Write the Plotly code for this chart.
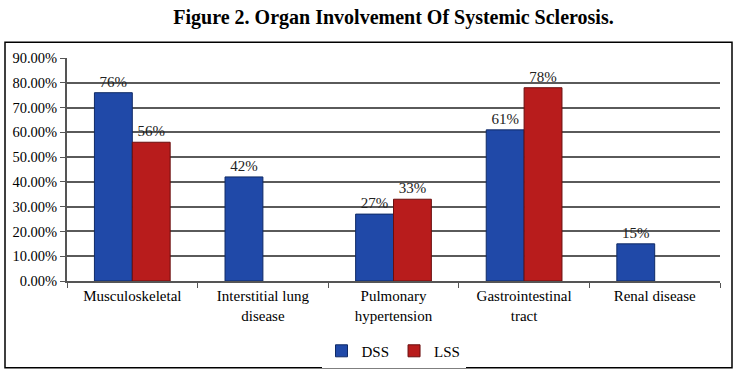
import plotly.graph_objects as go

categories = ["Musculoskeletal", "Interstitial lung<br>disease", "Pulmonary<br>hypertension",
              "Gastrointestinal<br>tract", "Renal disease"]
dss = [0.76, 0.42, 0.27, 0.61, 0.15]
lss = [0.56, None, 0.33, 0.78, None]
y_ticks = [0, 0.1, 0.2, 0.3, 0.4, 0.5, 0.6, 0.7, 0.8, 0.9]

font_family = "Liberation Serif"

def labels(vals):
    return [("%d%%" % round(v * 100)) if v is not None else "" for v in vals]

fig = go.Figure()
fig.add_trace(go.Bar(
    name="DSS", x=categories, y=dss, text=labels(dss), textposition="outside",
    marker=dict(color="#2049A8", line=dict(color="#0F2A66", width=1)),
    textfont=dict(family=font_family, size=15, color="#222"), cliponaxis=False,
))
fig.add_trace(go.Bar(
    name="LSS", x=categories, y=lss, text=labels(lss), textposition="outside",
    marker=dict(color="#B81C1C", line=dict(color="#6A0E0E", width=1)),
    textfont=dict(family=font_family, size=15, color="#222"), cliponaxis=False,
))

L, R, T, B = 67, 19, 58, 95
W, H = 739, 379
pw, ph = W - L - R, H - T - B

def px(x):
    return (x - L) / pw

def py(y):
    return (H - B - y) / ph

fig.update_layout(
    width=W, height=H,
    margin=dict(l=L, r=R, t=T, b=B),
    paper_bgcolor="white", plot_bgcolor="white",
    barmode="group", bargap=0.42, bargroupgap=0,
    font=dict(family=font_family, size=14, color="black"),
    title=dict(text="<b>Figure 2. Organ Involvement Of Systemic Sclerosis.</b>",
               x=0.5, xref="paper", xanchor="center", y=1 - 17 / H, yanchor="middle",
               font=dict(family=font_family, size=20, color="black")),
    legend=dict(orientation="h", x=0.5, xanchor="center", y=py(355), yanchor="middle",
                font=dict(family=font_family, size=15, color="black"), traceorder="normal",
                itemwidth=30),
    showlegend=True,
    xaxis=dict(tickson="boundaries", ticks="outside", ticklen=5, tickcolor="#555",
               showline=True, linecolor="#555", linewidth=2, showgrid=False,
               automargin=False,
               tickfont=dict(family=font_family, size=15, color="black")),
    yaxis=dict(range=[0, 0.9], tickvals=y_ticks, tickformat=".2%", ticks="outside",
               ticklen=5, tickcolor="#555", showline=True, linecolor="#555", linewidth=2,
               showgrid=True, gridcolor="#5a5a5a", gridwidth=2, zeroline=False,
               automargin=False,
               tickfont=dict(family=font_family, size=14.5, color="black")),
    shapes=[dict(type="rect", xref="paper", yref="paper",
                 x0=px(5), x1=px(732), y0=py(372), y1=py(42),
                 line=dict(color="black", width=1.5), fillcolor="rgba(0,0,0,0)")],
)

fig.write_html("out.html", config={"displayModeBar": False},
               post_script="document.body.style.margin='0';")
